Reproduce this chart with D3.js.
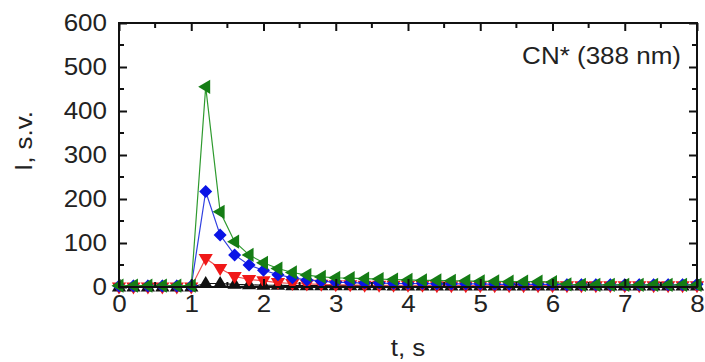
<!DOCTYPE html>
<html><head><meta charset="utf-8">
<script src="https://cdn.jsdelivr.net/npm/d3@7"></script>
<style>body{margin:0;background:#fff}svg{display:block}text{font-family:"Liberation Sans",Arial,sans-serif;fill:#222}</style>
</head><body><svg id="c" width="705" height="362"></svg>
<script>
const times = d3.range(41).map(i => +(i*0.2).toFixed(1));
const xTicks = [0,1,2,3,4,5,6,7,8];
const yTicks = [0,100,200,300,400,500,600];
const blackVals = [0,0,0,0,0,0, 8,8,6,5,4,4,3,3,3,3, 3,3,3,2,2,2,2,2,2,2, 2,2,2,2,2,2,2,2,2,2, 2,2,2,2,2];
const redVals   = [0,0,0,0,0,0, 65,42,24,17,14,10,8,7,6,5, 5,4,4,4,4,4,3,3,3,3, 3,3,3,3,3,3,3,3,3,3, 3,3,3,3,3];
const blueVals  = [2,2,2,2,2,2, 217,118,73,50,38,28,21,16,13,11, 10,9,9,8,8,8,7,7,7,7, 6,6,6,6,6,5,5,5,5,5, 5,5,5,5,6];
const greenVals = [3,3,3,3,3,3, 455,171,103,73,55,42,33,27,23,21, 20,19,18,17,16,15,15,14,14,13, 13,12,12,12,11,6,5,5,5,5, 5,5,5,5,5];

const series = [
  {name:"black", vals:blackVals, color:"#111", line:"#111", sym:"up"},
  {name:"red", vals:redVals, color:"#f01818", line:"#f05050", sym:"down"},
  {name:"blue", vals:blueVals, color:"#0a14e6", line:"#3040e0", sym:"diamond"},
  {name:"green", vals:greenVals, color:"#157d15", line:"#2e9a2e", sym:"left"}
];

const svg = d3.select("#c");
const L=119, R=697, T=23, B=287;
const x = d3.scaleLinear().domain([0,8]).range([L,R]);
const y = d3.scaleLinear().domain([0,600]).range([B,T]);
const FS = "23px", STRETCH = 1.13;
function stretch(sel){
  sel.each(function(){
    const w = this.getComputedTextLength();
    d3.select(this).attr("textLength", w*STRETCH).attr("lengthAdjust","spacingAndGlyphs");
  });
}

function symPath(type, s){
  if(type==="up") return `M0,${-s}L${s*0.95},${s*0.6}L${-s*0.95},${s*0.6}Z`;
  if(type==="down") return `M0,${s}L${s*0.95},${-s*0.6}L${-s*0.95},${-s*0.6}Z`;
  if(type==="left") return `M${-s},0L${s*0.6},${-s*0.95}L${s*0.6},${s*0.95}Z`;
  return `M0,${-s}L${s},0L0,${s}L${-s},0Z`;
}

const plot = svg.append("g");
series.forEach(sr => {
  const pts = times.map((t,i)=>[t, sr.vals[i]]);
  plot.append("path").datum(pts)
    .attr("fill","none").attr("stroke",sr.line).attr("stroke-width",1.2)
    .attr("d", d3.line().x(d=>x(d[0])).y(d=>y(d[1])));
  plot.selectAll(null).data(pts).enter().append("path")
    .attr("transform", d=>`translate(${x(d[0])},${y(d[1])})`)
    .attr("d", symPath(sr.sym, sr.sym==="diamond"?6.5:7.5))
    .attr("fill", sr.color);
});

svg.append("rect").attr("x",L).attr("y",T).attr("width",R-L).attr("height",B-T)
  .attr("fill","none").attr("stroke","#111").attr("stroke-width",2);

const xMinor = d3.range(0.5,8,1);
const yMinor = d3.range(50,600,100);
const gx = svg.append("g").attr("transform",`translate(0,${B})`)
  .call(d3.axisBottom(x).tickValues(xTicks).tickSize(-8).tickPadding(9).tickFormat(d3.format("d")));
const gxt = svg.append("g").attr("transform",`translate(0,${T})`)
  .call(d3.axisTop(x).tickValues(xTicks).tickSize(-8).tickFormat(""));
const gy = svg.append("g").attr("transform",`translate(${L},0)`)
  .call(d3.axisLeft(y).tickValues(yTicks).tickSize(-8).tickPadding(12).tickFormat(d3.format("d")));
const gyr = svg.append("g").attr("transform",`translate(${R},0)`)
  .call(d3.axisRight(y).tickValues(yTicks).tickSize(-8).tickFormat(""));
[gx,gxt,gy,gyr].forEach(g=>{
  g.select(".domain").remove();
  g.selectAll("line").attr("stroke","#111").attr("stroke-width",2);
  g.selectAll("text").style("font-size",FS).attr("fill","#222");
});
stretch(gx.selectAll("text"));
stretch(gy.selectAll("text"));

svg.append("g").selectAll("line").data(xMinor).enter().append("line")
  .attr("x1",d=>x(d)).attr("x2",d=>x(d)).attr("y1",B).attr("y2",B-5).attr("stroke","#111").attr("stroke-width",2);
svg.append("g").selectAll("line").data(xMinor).enter().append("line")
  .attr("x1",d=>x(d)).attr("x2",d=>x(d)).attr("y1",T).attr("y2",T+5).attr("stroke","#111").attr("stroke-width",2);
svg.append("g").selectAll("line").data(yMinor).enter().append("line")
  .attr("x1",L).attr("x2",L+5).attr("y1",d=>y(d)).attr("y2",d=>y(d)).attr("stroke","#111").attr("stroke-width",2);
svg.append("g").selectAll("line").data(yMinor).enter().append("line")
  .attr("x1",R).attr("x2",R-5).attr("y1",d=>y(d)).attr("y2",d=>y(d)).attr("stroke","#111").attr("stroke-width",2);

const t1 = svg.append("text").attr("x",408).attr("y",356).attr("text-anchor","middle").style("font-size",FS).text("t, s");
const t2 = svg.append("text").attr("transform","translate(32,141) rotate(-90)").attr("text-anchor","middle").style("font-size",FS).text("I, s.v.");
const t3 = svg.append("text").attr("x",681).attr("y",64).attr("text-anchor","end").style("font-size",FS).text("CN* (388 nm)");
stretch(t1); stretch(t2); stretch(t3);
</script></body></html>
